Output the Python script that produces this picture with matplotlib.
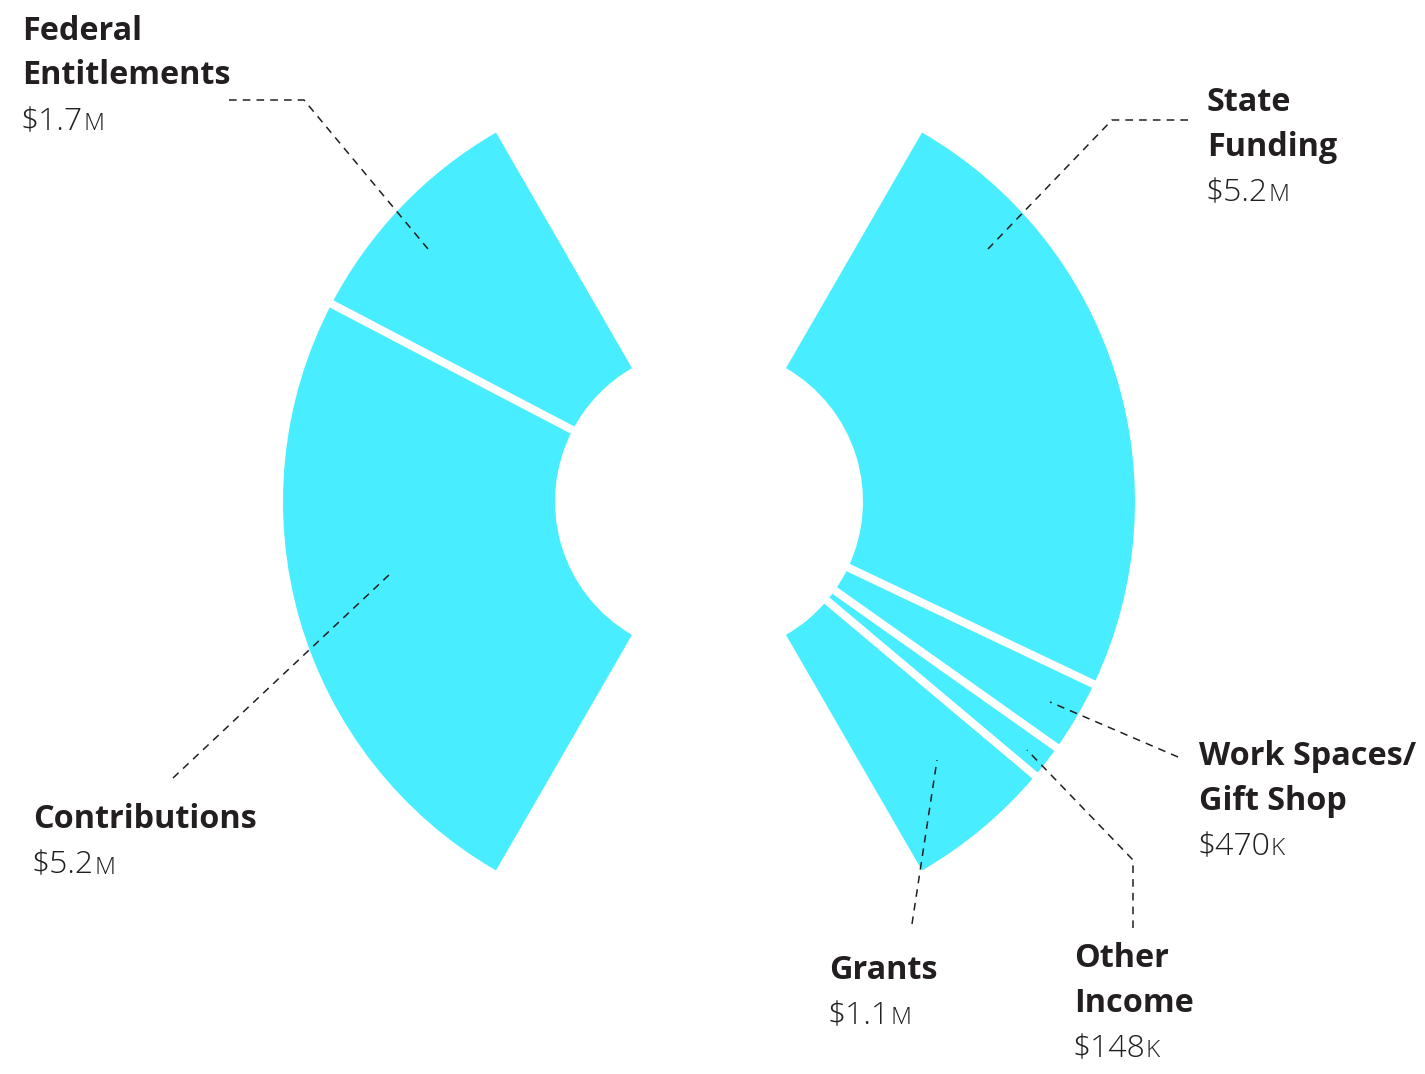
import matplotlib
matplotlib.use("Agg")
import matplotlib.pyplot as plt
from matplotlib.patches import Wedge
import numpy as np

# ---------------- data ----------------
left_labels = ["Federal\nEntitlements", "Contributions"]
left_values = [1.7, 5.2]            # $M
left_value_text = [("$1.7", "M"), ("$5.2", "M")]

right_labels = ["State\nFunding", "Work Spaces/\nGift Shop", "Other\nIncome", "Grants"]
right_values = [5.2, 0.47, 0.148, 1.1]   # $M
right_value_text = [("$5.2", "M"), ("$470", "K"), ("$148", "K"), ("$1.1", "M")]

# ---------------- style / layout ----------------
W, H = 1425, 1074
CYAN = "#48EDFF"
INK = "#231F20"
CX, CY = 709, 501.5
R_OUT, R_IN = 426, 154
HALF_SPAN = 120.0
PAD = {"left": 0.35, "right": 0.15}  # visibility padding added to each value when sizing slices

fig = plt.figure(figsize=(W / 100, H / 100), dpi=100)
ax = fig.add_axes([0, 0, 1, 1])
ax.set_xlim(0, W)
ax.set_ylim(H, 0)
ax.set_aspect("equal")
ax.axis("off")


def spans(values, pad):
    w = np.array(values) + pad
    return w / w.sum() * HALF_SPAN


def draw_wedge(a_start, a_end):
    # visual angles (counter-clockwise, y up); axis y is inverted so negate
    lo, hi = min(a_start, a_end), max(a_start, a_end)
    ax.add_patch(Wedge((CX, CY), R_OUT, -hi, -lo, width=R_OUT - R_IN,
                       facecolor=CYAN, edgecolor="none"))


def draw_gap(a):
    t = np.deg2rad(a)
    r0, r1 = R_IN - 20, R_OUT + 6
    ax.plot([CX + r0 * np.cos(t), CX + r1 * np.cos(t)],
            [CY - r0 * np.sin(t), CY - r1 * np.sin(t)],
            color="white", lw=5.8, solid_capstyle="butt", zorder=3)


# left half: from 120 deg going counter-clockwise to 240 deg
a = 120.0
bounds = []
for s in spans(left_values, PAD["left"]):
    draw_wedge(a, a + s)
    a += s
    bounds.append(a)
for b in bounds[:-1]:
    draw_gap(b)

# right half: from 60 deg going clockwise to -60 deg
a = 60.0
bounds = []
for s in spans(right_values, PAD["right"]):
    draw_wedge(a, a - s)
    a -= s
    bounds.append(a)
for b in bounds[:-1]:
    draw_gap(b)

# ---------------- leader lines ----------------
leaders = [
    [(229, 100), (304, 100), (428, 249)],
    [(1188, 120), (1112, 120), (988, 249)],
    [(173, 778), (390, 574)],
    [(1178, 757), (1050, 702)],
    [(1133, 928), (1133, 860), (1027, 750)],
    [(912, 924), (937, 760)],
]
for pts in leaders:
    xs, ys = zip(*pts)
    ax.plot(xs, ys, color=INK, lw=1.1, ls=(0, (5, 4)), zorder=4)

# ---------------- labels ----------------
TITLE_FS = 23.3
VALUE_FS = 23
FAMILY = ["Open Sans", "DejaVu Sans"]
LINE = 44.5

label_pos = {
    "Federal\nEntitlements": (22, 40),
    "Contributions": (33, 828),
    "State\nFunding": (1207, 111),
    "Work Spaces/\nGift Shop": (1199, 765),
    "Other\nIncome": (1074, 967),
    "Grants": (829, 979),
}

all_labels = left_labels + right_labels
all_values = left_value_text + right_value_text

value_texts = []
for lab, (num, suf) in zip(all_labels, all_values):
    x, y = label_pos[lab]
    lines = lab.split("\n")
    for i, ln in enumerate(lines):
        ax.text(x, y + i * LINE, ln, fontsize=TITLE_FS, fontweight="bold",
                family=FAMILY, color=INK, va="baseline", ha="left")
    vy = y + len(lines) * LINE + 1
    t = ax.text(x - 1, vy, num, fontsize=VALUE_FS, fontweight="light",
                family=FAMILY, color=INK, va="baseline", ha="left")
    value_texts.append((t, suf, vy))

fig.canvas.draw()
inv = ax.transData.inverted()
for t, suf, vy in value_texts:
    bb = t.get_window_extent()
    xr = inv.transform((bb.x1, bb.y0))[0]
    ax.text(xr, vy, suf, fontsize=VALUE_FS * 0.76, fontweight="light",
            family=FAMILY, color=INK, va="baseline", ha="left")

fig.savefig("out.png", dpi=100, facecolor="white")
